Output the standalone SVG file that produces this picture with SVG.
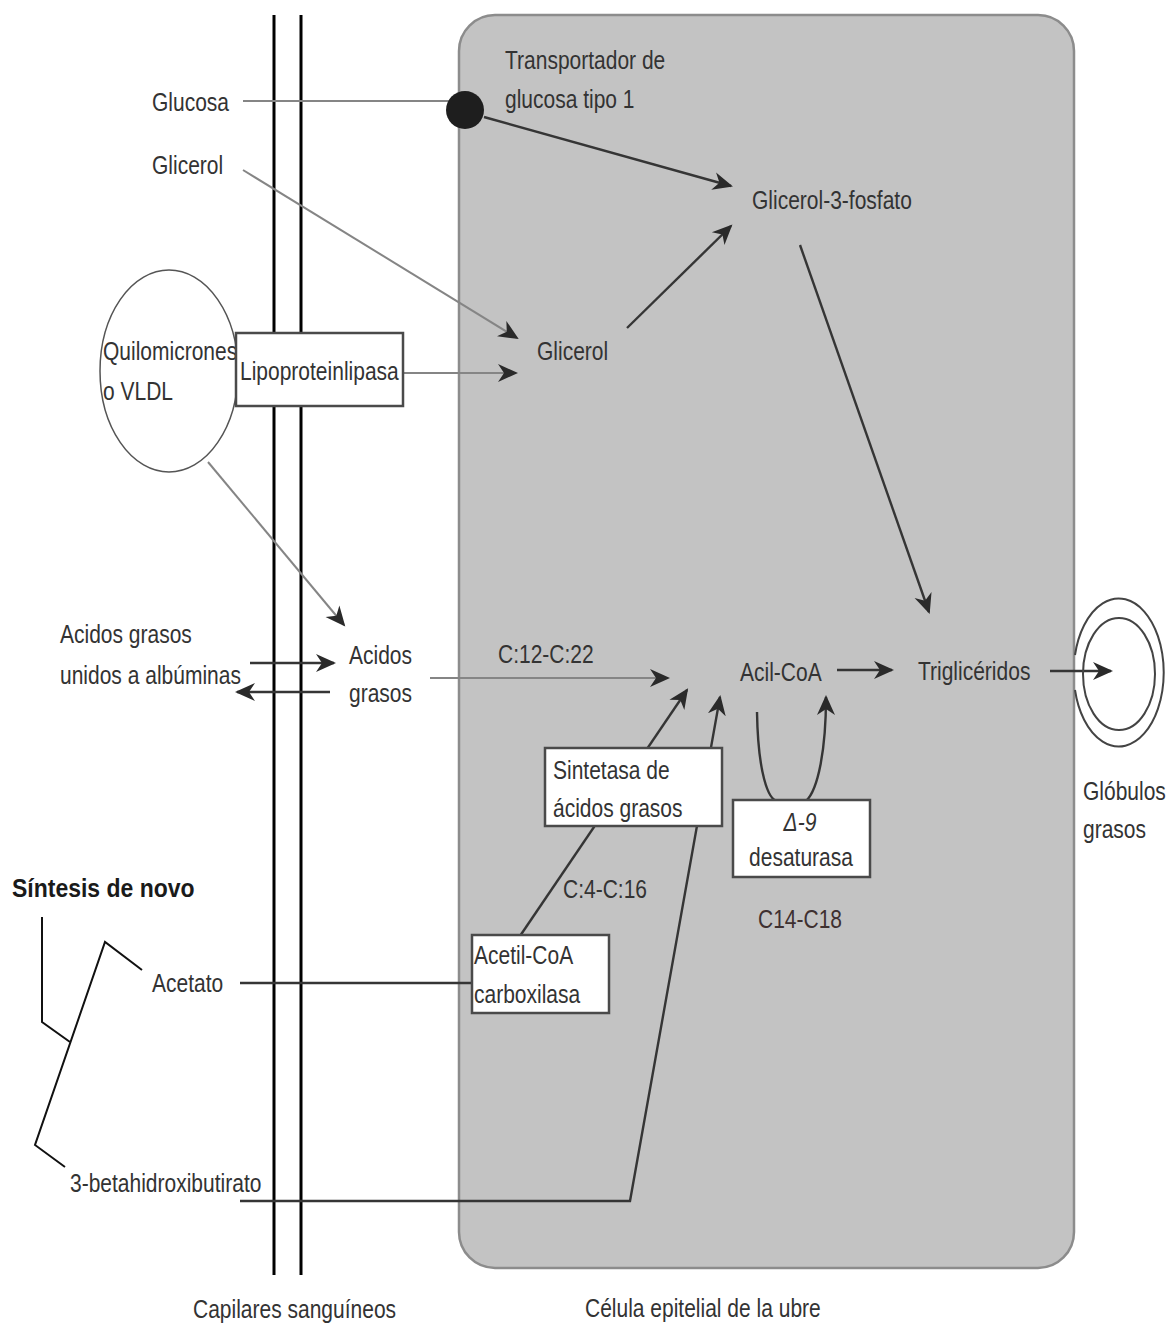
<svg xmlns="http://www.w3.org/2000/svg" width="1169" height="1329" viewBox="0 0 1169 1329">
<defs>
<marker id="ah" markerUnits="userSpaceOnUse" markerWidth="22" markerHeight="20" refX="18" refY="10" orient="auto">
<path d="M0,1 L20,10 L0,19 L6,10 z" fill="#2a2a2a"/>
</marker>
</defs>
<style>
text{font-family:"Liberation Sans",Arial,sans-serif;font-size:21px;fill:#333}
.c{stroke:#353535;stroke-width:2.4;fill:none}
.l{stroke:#858585;stroke-width:2;fill:none}
.box{fill:#fff;stroke:#4a4a4a;stroke-width:2.5}
.cap{stroke:#000;stroke-width:3}
.bk{stroke:#111;stroke-width:2;fill:none}
</style>
<rect width="1169" height="1329" fill="#fff"/>
<g id="cell">
<rect x="459" y="15" width="615" height="1253" rx="36" fill="#c3c3c3" stroke="#8c8c8c" stroke-width="2.5"/>
<text transform="translate(585,1317) scale(1,1.2)">Célula epitelial de la ubre</text>
</g>
<g id="capilares">
<line class="cap" x1="274" y1="15" x2="274" y2="1275"/>
<line class="cap" x1="301" y1="15" x2="301" y2="1275"/>
<text transform="translate(193,1318) scale(1,1.2)">Capilares sanguíneos</text>
</g>
<g id="connectors">
<line class="l" x1="243" y1="101" x2="450" y2="101"/>
<line class="c" x1="484" y1="117" x2="731" y2="186" marker-end="url(#ah)"/>
<line class="l" x1="243" y1="170" x2="517" y2="338" marker-end="url(#ah)"/>
<line class="c" x1="627" y1="328" x2="731" y2="226" marker-end="url(#ah)"/>
<line class="c" x1="800" y1="245" x2="929" y2="612" marker-end="url(#ah)"/>
<line class="l" x1="403" y1="373" x2="516" y2="373" marker-end="url(#ah)"/>
<line class="l" x1="208" y1="462" x2="344" y2="625" marker-end="url(#ah)"/>
<line class="c" x1="250" y1="663" x2="334" y2="663" marker-end="url(#ah)"/>
<line class="c" x1="330" y1="692" x2="237" y2="692" marker-end="url(#ah)"/>
<line class="l" x1="430" y1="678" x2="668" y2="678" marker-end="url(#ah)"/>
<line class="c" x1="520" y1="936" x2="687" y2="690" marker-end="url(#ah)"/>
<polyline class="c" points="240,1201 630,1201 720,697" marker-end="url(#ah)"/>
<line class="c" x1="240" y1="983" x2="472" y2="983"/>
<path class="c" d="M757,712 C758,772 768,801 778,801 L806,801 C818,790 826,750 826,697" marker-end="url(#ah)"/>
<line class="c" x1="837" y1="670" x2="892" y2="670" marker-end="url(#ah)"/>
<line class="c" x1="1050" y1="671" x2="1111" y2="671" marker-end="url(#ah)"/>
</g>
<g id="sintesis">
<text transform="translate(12,897) scale(1,1.15)" style="font-weight:bold;font-size:23px;fill:#1a1a1a">Síntesis de novo</text>
<polyline class="bk" points="42,917 42,1022 70,1042"/>
<polyline class="bk" points="142,970 105,942 35,1145 65,1167"/>
</g>
<g id="transportador">
<circle cx="465" cy="110" r="19" fill="#1e1e1e"/>
<text transform="translate(505,69) scale(1,1.2)">Transportador de</text>
<text transform="translate(505,108) scale(1,1.2)">glucosa tipo 1</text>
</g>
<g id="glucosa"><text transform="translate(152,111) scale(1,1.2)">Glucosa</text></g>
<g id="glicerol-ext"><text transform="translate(152,174) scale(1,1.2)">Glicerol</text></g>
<g id="glicerol-3-fosfato"><text transform="translate(752,209) scale(1,1.2)">Glicerol-3-fosfato</text></g>
<g id="glicerol-int"><text transform="translate(537,360) scale(1,1.2)">Glicerol</text></g>
<g id="quilomicrones">
<ellipse cx="169" cy="371" rx="69" ry="101" fill="#fff" stroke="#555" stroke-width="1.5"/>
<text transform="translate(103,360) scale(1,1.2)">Quilomicrones</text>
<text transform="translate(103,400) scale(1,1.2)">o VLDL</text>
</g>
<g id="lipoproteinlipasa">
<rect class="box" x="236" y="333" width="167" height="73"/>
<text transform="translate(240,380) scale(1,1.2)">Lipoproteinlipasa</text>
</g>
<g id="acidos-albuminas">
<text transform="translate(60,643) scale(1,1.2)">Acidos grasos</text>
<text transform="translate(60,684) scale(1,1.2)">unidos a albúminas</text>
</g>
<g id="acidos-grasos">
<text transform="translate(349,664) scale(1,1.2)">Acidos</text>
<text transform="translate(349,702) scale(1,1.2)">grasos</text>
</g>
<g id="label-c12"><text transform="translate(498,663) scale(1,1.2)">C:12-C:22</text></g>
<g id="acil-coa"><text transform="translate(740,681) scale(1,1.2)">Acil-CoA</text></g>
<g id="trigliceridos"><text transform="translate(918,680) scale(1,1.2)">Triglicéridos</text></g>
<g id="sintetasa">
<rect class="box" x="545" y="748" width="177" height="78"/>
<text transform="translate(553,779) scale(1,1.2)">Sintetasa de</text>
<text transform="translate(553,817) scale(1,1.2)">ácidos grasos</text>
</g>
<g id="desaturasa">
<rect class="box" x="733" y="800" width="137" height="77"/>
<text transform="translate(800,831) scale(1,1.2)" text-anchor="middle" style="font-style:italic">Δ-9</text>
<text transform="translate(801,866) scale(1,1.2)" text-anchor="middle">desaturasa</text>
</g>
<g id="label-c14"><text transform="translate(800,928) scale(1,1.2)" text-anchor="middle" style="fill:#3e3030">C14-C18</text></g>
<g id="label-c4"><text transform="translate(563,898) scale(1,1.2)">C:4-C:16</text></g>
<g id="acetil-coa">
<rect class="box" x="472" y="935" width="137" height="78"/>
<text transform="translate(474,964) scale(1,1.2)">Acetil-CoA</text>
<text transform="translate(474,1003) scale(1,1.2)">carboxilasa</text>
</g>
<g id="acetato"><text transform="translate(152,992) scale(1,1.2)">Acetato</text></g>
<g id="betahidroxibutirato"><text transform="translate(70,1192) scale(1,1.2)">3-betahidroxibutirato</text></g>
<g id="globulos">
<path d="M1075,655 A45,74 0 1 1 1075,690" fill="none" stroke="#444" stroke-width="2"/>
<ellipse cx="1119" cy="674" rx="36" ry="56" fill="none" stroke="#444" stroke-width="2"/>
<text transform="translate(1083,800) scale(1,1.2)">Glóbulos</text>
<text transform="translate(1083,838) scale(1,1.2)">grasos</text>
</g>
</svg>
